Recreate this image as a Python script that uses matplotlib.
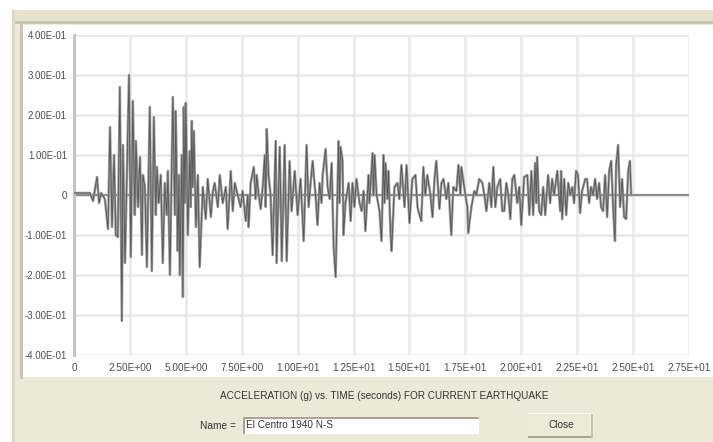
import matplotlib
matplotlib.use("Agg")
import matplotlib.pyplot as plt
from matplotlib.patches import Rectangle

plt.rcParams['font.family'] = ['Liberation Sans', 'DejaVu Sans']

# Ground acceleration record (El Centro 1940 N-S), time in seconds, acceleration in g
time_s = [
    0.00, 0.71, 0.85, 1.03, 1.12, 1.21, 1.38, 1.52, 1.61, 1.70, 1.79, 1.87, 1.96,
    2.05, 2.14, 2.19, 2.28, 2.46, 2.54, 2.63, 2.72, 2.77, 2.86, 2.95, 3.04, 3.08,
    3.17, 3.26, 3.39, 3.48, 3.57, 3.66, 3.71, 3.79, 3.88, 3.97, 4.06, 4.15, 4.20,
    4.29, 4.42, 4.51, 4.55, 4.64, 4.69, 4.73, 4.82, 4.87, 4.91, 4.96, 5.00, 5.09,
    5.18, 5.22, 5.27, 5.31, 5.36, 5.45, 5.54, 5.62, 5.76, 5.89, 5.98, 6.12, 6.21,
    6.29, 6.43, 6.52, 6.65, 6.79, 6.87, 7.01, 7.10, 7.19, 7.32, 7.45, 7.54, 7.68,
    7.77, 7.81, 7.90, 8.04, 8.12, 8.17, 8.26, 8.35, 8.44, 8.53, 8.57, 8.62, 8.70,
    8.79, 8.88, 9.02, 9.06, 9.20, 9.29, 9.37, 9.42, 9.51, 9.64, 9.73, 9.87, 10.00,
    10.13, 10.27, 10.40, 10.49, 10.58, 10.67, 10.80, 10.89, 10.98, 11.07, 11.12,
    11.25, 11.34, 11.43, 11.52, 11.61, 11.70, 11.83, 11.87, 11.92, 12.01, 12.05,
    12.14, 12.28, 12.37, 12.45, 12.54, 12.63, 12.77, 12.86, 12.95, 13.03, 13.17,
    13.21, 13.35, 13.39, 13.44, 13.53, 13.66, 13.75, 13.84, 13.88, 13.93, 14.02,
    14.06, 14.15, 14.20, 14.33, 14.46, 14.55, 14.64, 14.78, 14.87, 15.00, 15.13,
    15.27, 15.36, 15.45, 15.53, 15.62, 15.71, 15.80, 15.94, 16.03, 16.12, 16.20,
    16.34, 16.43, 16.52, 16.65, 16.74, 16.87, 16.96, 17.10, 17.19, 17.28, 17.32,
    17.37, 17.50, 17.59, 17.63, 17.77, 17.90, 17.99, 18.12, 18.26, 18.35, 18.44,
    18.57, 18.66, 18.75, 18.84, 18.93, 19.06, 19.15, 19.24, 19.33, 19.42, 19.51,
    19.60, 19.69, 19.82, 19.91, 20.00, 20.13, 20.27, 20.36, 20.45, 20.53, 20.62,
    20.67, 20.71, 20.80, 20.89, 20.98, 21.07, 21.20, 21.29, 21.38, 21.47, 21.61,
    21.74, 21.78, 21.83, 21.92, 22.01, 22.10, 22.19, 22.28, 22.36, 22.45, 22.54,
    22.63, 22.72, 22.86, 22.94, 23.03, 23.12, 23.21, 23.30, 23.39, 23.48, 23.57,
    23.66, 23.75, 23.84, 23.93, 24.02, 24.11, 24.19, 24.24, 24.33, 24.42, 24.51,
    24.60, 24.69, 24.78, 24.86, 24.91,
]
accel_g = [
    0.005, 0.005, -0.015, 0.045, -0.020, 0.005, -0.010, -0.085, 0.170, -0.080, 0.100, -0.100, -0.105,
    0.270, -0.315, 0.125, -0.170, 0.300, -0.155, 0.235, -0.050, 0.135, -0.030, 0.095, -0.150, 0.050,
    0.020, -0.180, 0.220, -0.190, 0.195, -0.050, 0.070, -0.020, 0.050, -0.170, 0.030, -0.050, 0.060,
    -0.200, 0.245, -0.050, 0.210, -0.140, 0.050, -0.200, 0.100, -0.255, 0.220, -0.020, 0.230, -0.100,
    0.110, -0.030, 0.185, 0.020, 0.160, -0.080, 0.050, -0.180, 0.020, -0.060, 0.040, -0.055, 0.010,
    0.030, -0.030, 0.050, -0.020, 0.020, -0.085, 0.060, -0.040, 0.030, 0.000, -0.030, 0.010, -0.065,
    0.000, -0.080, 0.030, 0.070, -0.010, 0.050, 0.000, -0.035, 0.020, 0.100, -0.030, 0.165, 0.050,
    0.000, -0.150, 0.135, -0.170, 0.120, -0.165, 0.020, 0.125, -0.165, 0.085, -0.040, 0.060, -0.050,
    0.040, -0.115, 0.125, -0.030, 0.030, 0.085, 0.000, -0.075, 0.030, -0.020, 0.050,
    0.115, 0.020, -0.010, 0.080, -0.130, -0.205, 0.135, -0.020, 0.120, 0.085, -0.100,
    -0.020, 0.030, -0.065, 0.030, -0.030, 0.040, -0.020, -0.040, 0.010, -0.090, 0.050,
    -0.020, 0.105, 0.000, 0.100, 0.000, -0.040, -0.115, 0.100, -0.020, 0.080, -0.010,
    0.060, -0.090, -0.140, 0.020, 0.030, -0.010, 0.075, -0.030, 0.075, -0.070, 0.040,
    0.050, -0.030, -0.050, -0.065, 0.070, 0.000, 0.050, 0.000, -0.055, 0.040, 0.085,
    -0.035, 0.030, 0.040, -0.010, 0.030, -0.100, 0.020, 0.010, 0.075, 0.000, 0.070,
    0.050, 0.000, -0.030, -0.095, -0.030, 0.010, 0.000, 0.040, 0.030, 0.000, -0.040,
    0.030, -0.030, 0.070, -0.030, 0.020, 0.040, -0.040, -0.040, 0.030, 0.000, -0.060,
    0.040, 0.050, -0.020, 0.020, -0.075, 0.045, 0.050, -0.050, 0.060, -0.050, 0.080,
    -0.020, 0.095, -0.040, -0.050, 0.020, -0.050, 0.050, -0.020, 0.040, 0.000, 0.060,
    -0.040, 0.060, -0.060, 0.040, -0.050, 0.030, 0.000, 0.020, -0.020, 0.060, 0.050,
    -0.045, 0.010, 0.040, 0.040, -0.020, 0.020, 0.000, 0.040, -0.010, 0.030, -0.030,
    -0.040, 0.050, -0.055, 0.060, 0.085, -0.035, -0.115, 0.075, 0.125, -0.030, 0.040,
    -0.055, -0.060, 0.060, 0.085, 0.000,
]

x_ticks = [0, 2.5, 5.0, 7.5, 10.0, 12.5, 15.0, 17.5, 20.0, 22.5, 25.0, 27.5]
x_tick_labels = ["0", "2.50E+00", "5.00E+00", "7.50E+00", "1.00E+01", "1.25E+01",
                 "1.50E+01", "1.75E+01", "2.00E+01", "2.25E+01", "2.50E+01", "2.75E+01"]
y_ticks = [0.4, 0.3, 0.2, 0.1, 0.0, -0.1, -0.2, -0.3, -0.4]
y_tick_labels = ["4.00E-01", "3.00E-01", "2.00E-01", "1.00E-01", "0",
                 "-1.00E-01", "-2.00E-01", "-3.00E-01", "-4.00E-01"]

title_text = "ACCELERATION (g) vs. TIME (seconds) FOR CURRENT EARTHQUAKE"
name_label = "Name ="
record_name = "El Centro 1940 N-S"
button_text = "Close"

W, H = 713, 442
fig = plt.figure(figsize=(W / 100, H / 100), dpi=100)
fig.patch.set_facecolor("white")


def px_rect(x0, y0, x1, y1, **kw):
    """Rectangle in pixel coordinates measured from the top-left corner."""
    r = Rectangle((x0 / W, 1 - y1 / H), (x1 - x0) / W, (y1 - y0) / H,
                  transform=fig.transFigure, zorder=-10, **kw)
    fig.add_artist(r)
    return r


def px_text(x, y, s, **kw):
    fig.text(x / W, 1 - y / H, s, **kw)


# dialog window
px_rect(12, 10, W + 2, H + 2, facecolor="#ECE9D8", edgecolor="none")
px_rect(12, 10, W + 2, 21, facecolor="#E6E2CE", edgecolor="none")
px_rect(12, 21, W + 2, 24, facecolor="#C8C4B0", edgecolor="none")
px_rect(12, 10, 15, H + 2, facecolor="#DCD8C4", edgecolor="none")
px_rect(20, 24, 23, 379, facecolor="#C8C4B0", edgecolor="none")
# white chart panel
px_rect(23, 25, W + 2, 377, facecolor="white", edgecolor="none")

# chart axes
ax = fig.add_axes([74 / W, 1 - 355 / H, (689 - 74) / W, (355 - 35) / H])
ax.set_zorder(5)
ax.set_facecolor("white")
ax.set_xlim(0, 27.5)
ax.set_ylim(-0.4, 0.4)
ax.set_xticks(x_ticks)
ax.set_xticklabels(x_tick_labels)
ax.set_yticks(y_ticks)
ax.set_yticklabels(y_tick_labels)
ax.tick_params(length=0, colors="#4a4a4a")
ax.tick_params(axis="y", pad=5, labelsize=6.9)
ax.tick_params(axis="x", pad=6, labelsize=7.2)
ax.grid(True, color="#E9E9E9", linewidth=1.8)
ax.set_axisbelow(True)
for side in ["top", "right", "bottom"]:
    ax.spines[side].set_visible(False)
ax.spines["left"].set_color("#C4C4C4")
ax.spines["left"].set_linewidth(2.2)

ax.axhline(0, color="#8C8C8C", linewidth=1.6, zorder=2)
ax.plot(time_s, accel_g, color="#9A9A9A", linewidth=1.8, zorder=3)
ax.plot(time_s, accel_g, color="#555555", linewidth=0.6, zorder=4)

# caption and controls below the chart
px_text(384, 396, title_text, ha="center", va="center", fontsize=7.2, color="#333333")
px_text(218, 426, name_label, ha="center", va="center", fontsize=7.3, color="#333333")

px_rect(243, 417, 479, 434, facecolor="white", edgecolor="none")
px_rect(243, 417, 479, 418.5, facecolor="#A8A490", edgecolor="none")
px_rect(243, 417, 244.5, 434, facecolor="#A8A490", edgecolor="none")
px_text(246, 425.5, record_name, ha="left", va="center", fontsize=7.2, color="#333333")

px_rect(528, 413, 593, 438, facecolor="#EDEAD9", edgecolor="none")
px_rect(528, 436, 593, 438, facecolor="#A9A594", edgecolor="none")
px_rect(591, 413, 593, 438, facecolor="#C9C5B3", edgecolor="none")
px_rect(528, 413, 593, 414, facecolor="#F8F7F0", edgecolor="none")
px_text(561, 425.5, button_text, ha="center", va="center", fontsize=7.3, color="#333333")

fig.savefig("out.png", dpi=100, facecolor=fig.get_facecolor())
